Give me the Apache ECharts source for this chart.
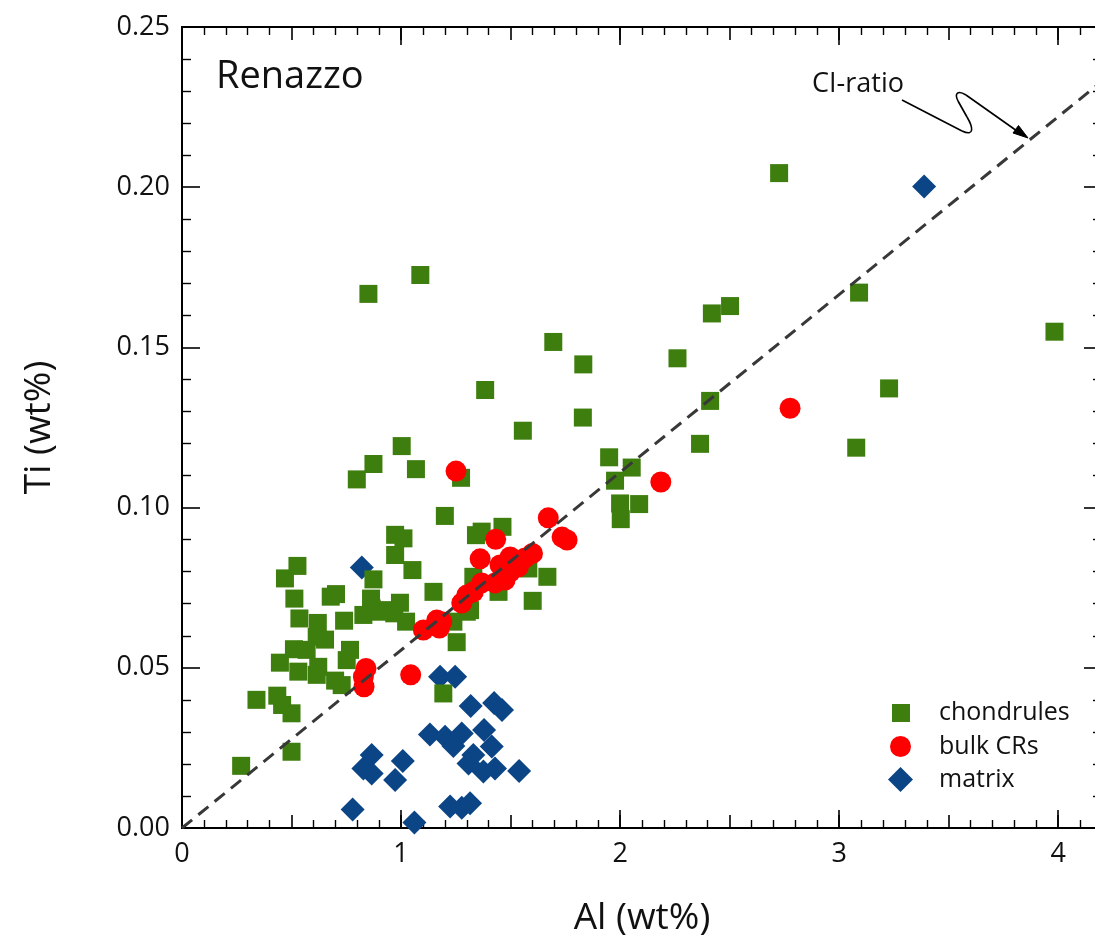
<!DOCTYPE html>
<html><head><meta charset="utf-8">
<script src="https://cdn.jsdelivr.net/npm/echarts@6/dist/echarts.min.js"></script>
<style>html,body{margin:0;padding:0;background:#fff;overflow:hidden}#c{width:1110px;height:937px}</style>
</head><body><div id="c"></div>
<script>
// Al (wt%), Ti (wt%)
const chondrules = [[0.27,0.0194],[0.50,0.0238],[0.34,0.0400],[0.435,0.0413],[0.457,0.0384],[0.50,0.0358],[0.447,0.0516],[0.531,0.0488],[0.511,0.0558],[0.569,0.0556],[0.622,0.0503],[0.615,0.0478],[0.699,0.0460],[0.729,0.0446],[0.752,0.0524],[0.767,0.0556],[0.615,0.0597],[0.653,0.0588],[0.536,0.0654],[0.620,0.0640],[0.740,0.0647],[0.513,0.0716],[0.679,0.0722],[0.703,0.0730],[0.470,0.0779],[0.527,0.0818],[0.863,0.0716],[0.866,0.0685],[0.896,0.0675],[0.828,0.0665],[0.874,0.0776],[0.995,0.0703],[0.969,0.0670],[1.023,0.0644],[0.942,0.0680],[0.973,0.0915],[1.011,0.0904],[0.973,0.0852],[1.052,0.0805],[1.148,0.0737],[0.798,0.1088],[0.874,0.1136],[1.003,0.1192],[1.068,0.1120],[0.851,0.1667],[1.088,0.1726],[1.274,0.1093],[1.200,0.0974],[1.342,0.0914],[1.368,0.0925],[1.463,0.0940],[1.330,0.0784],[1.445,0.0737],[1.581,0.0810],[1.668,0.0784],[1.601,0.0709],[1.300,0.0675],[1.239,0.0644],[1.315,0.0680],[1.254,0.0580],[1.193,0.0420],[1.384,0.1367],[1.556,0.1240],[1.695,0.1517],[1.832,0.1447],[1.830,0.1281],[1.950,0.1157],[2.053,0.1125],[1.977,0.1084],[2.000,0.1013],[2.087,0.1011],[2.003,0.0964],[2.262,0.1466],[2.411,0.1333],[2.365,0.1199],[2.419,0.1606],[2.502,0.1629],[2.726,0.2044],[3.091,0.1671],[3.228,0.1372],[3.078,0.1187],[3.983,0.1549]];
const bulkCRs = [[1.251,0.1114],[1.672,0.0968],[1.432,0.0901],[1.361,0.0840],[1.735,0.0908],[1.758,0.0899],[1.600,0.0857],[1.566,0.0843],[1.498,0.0846],[1.452,0.0821],[1.536,0.0815],[1.498,0.0799],[1.475,0.0774],[1.429,0.0765],[1.368,0.0765],[1.330,0.0737],[1.300,0.0727],[1.277,0.0702],[1.186,0.0644],[1.163,0.0649],[1.175,0.0624],[1.102,0.0618],[1.044,0.0478],[0.840,0.0498],[0.828,0.0472],[0.831,0.0441],[2.186,0.1080],[2.776,0.1310]];
const matrix = [[1.178,0.0472],[1.247,0.0472],[1.318,0.0381],[1.425,0.0390],[1.461,0.0368],[1.132,0.0292],[1.201,0.0285],[1.239,0.0256],[1.277,0.0295],[1.379,0.0306],[1.414,0.0254],[1.330,0.0228],[1.308,0.0201],[1.376,0.0176],[1.429,0.0186],[1.539,0.0178],[0.866,0.0228],[0.828,0.0186],[0.866,0.0170],[1.008,0.0209],[0.973,0.0150],[0.779,0.0058],[1.061,0.0017],[1.224,0.0067],[1.277,0.0063],[1.315,0.0077],[0.821,0.0813],[3.388,0.2002]];
const ciLine = [[0,0],[4.2,0.2331]];
const xTickLabels = ['0','1','2','3','4'];
const yTickLabels = ['0.00','0.05','0.10','0.15','0.20','0.25'];
const seriesNames = ['chondrules','bulk CRs','matrix'];

const FONT = '"Open Sans","Noto Sans",sans-serif';
const BLACK = '#000';
const XMAX = 4.2, YMAX = 0.25;
const gridRect = {left:182, top:27, width:920, height:801, containLabel:false, outerBoundsMode:'none'};

function xAx(grid, pos, interval, tickLen, minor, labels){
  const a = {type:'value', gridIndex:grid, position:pos, min:0, max:XMAX, interval:interval,
    axisLine:{show:true, onZero:false, lineStyle:{color:BLACK, width:2}},
    axisTick:{show:true, inside:true, length:tickLen, lineStyle:{color:BLACK, width:1.6}},
    splitLine:{show:false},
    axisLabel:{show:false}};
  if (minor) a.minorTick = {show:true, splitNumber:5, length:8, lineStyle:{color:BLACK, width:1.4}};
  if (labels) {
    a.axisLabel = {show:true, showMaxLabel:false, margin:13, fontSize:27, fontFamily:FONT, color:'#111',
      formatter: v => { const i = Math.round(v); return Math.abs(v - i) < 1e-6 && xTickLabels[i] !== undefined ? xTickLabels[i] : ''; }};
    a.name = 'Al (wt%)'; a.nameLocation = 'middle'; a.nameGap = 72;
    a.nameTextStyle = {fontSize:37, fontFamily:FONT, color:'#111'};
  }
  return a;
}
function yAx(grid, pos, labels, show){
  const a = {type:'value', gridIndex:grid, position:pos, min:0, max:YMAX, interval:0.05, show:show,
    axisLine:{show:true, onZero:false, lineStyle:{color:BLACK, width:2}},
    axisTick:{show:true, inside:true, length:18, lineStyle:{color:BLACK, width:1.6}},
    minorTick:{show:true, splitNumber:5, length:9, lineStyle:{color:BLACK, width:1.4}},
    splitLine:{show:false}, axisLabel:{show:false}};
  if (labels) {
    a.axisLabel = {show:true, margin:12, fontSize:27, fontFamily:FONT, color:'#111', padding:[0,0,6,0],
      formatter: v => { const i = Math.round(v/0.05); return yTickLabels[i] !== undefined ? yTickLabels[i] : ''; }};
    a.name = 'Ti (wt%)'; a.nameLocation = 'middle'; a.nameGap = 124;
    a.nameTextStyle = {fontSize:37, fontFamily:FONT, color:'#111'};
  }
  return a;
}

const arrowStyle = {stroke:'#000', lineWidth:1.6, fill:null};
const option = {
  animation:false,
  backgroundColor:'#fff',
  grid:[Object.assign({}, gridRect), Object.assign({}, gridRect)],
  xAxis:[xAx(0,'bottom',1,18,false,true), xAx(0,'top',1,18,false,false),
         xAx(1,'bottom',0.5,13,true,false), xAx(1,'top',0.5,13,true,false)],
  yAxis:[yAx(0,'left',true,true), yAx(0,'right',false,true), yAx(1,'left',false,false)],
  legend:[
    {data:[seriesNames[0]], left:892, top:700.5, padding:0, itemWidth:18, itemHeight:18, selectedMode:false,
     textStyle:{fontSize:25, fontFamily:FONT, color:'#111', padding:[0,0,0,24]}},
    {data:[seriesNames[1]], left:890, top:734, padding:0, itemWidth:21, itemHeight:21, selectedMode:false,
     textStyle:{fontSize:25, fontFamily:FONT, color:'#111', padding:[0,0,0,23]}},
    {data:[seriesNames[2]], left:888, top:767, padding:0, itemWidth:25, itemHeight:25, selectedMode:false,
     textStyle:{fontSize:25, fontFamily:FONT, color:'#111', padding:[0,0,0,21]}}
  ],
  series:[
    {name:seriesNames[2], type:'scatter', xAxisIndex:0, yAxisIndex:0, data:matrix, symbol:'diamond', symbolSize:24,
     itemStyle:{color:'#0b4586', opacity:1}},
    {name:seriesNames[0], type:'scatter', xAxisIndex:0, yAxisIndex:0, data:chondrules, symbol:'rect', symbolSize:18,
     itemStyle:{color:'#3e7e0e', opacity:1}},
    {name:'CI-ratio', type:'line', xAxisIndex:0, yAxisIndex:0, data:ciLine, symbol:'none', silent:true,
     lineStyle:{color:'#383838', width:3, type:[13,8]}},
    {name:seriesNames[1], type:'scatter', xAxisIndex:0, yAxisIndex:0, data:bulkCRs, symbol:'circle', symbolSize:21,
     itemStyle:{color:'#ff0000', opacity:1}}
  ],
  graphic:[
    {type:'text', x:216, y:77, style:{text:'Renazzo', fontSize:38, fontFamily:FONT, fill:'#111', verticalAlign:'middle'}},
    {type:'text', x:812, y:84, style:{text:'CI-ratio', fontSize:27, fontFamily:FONT, fill:'#111', verticalAlign:'middle'}},
    {type:'line', shape:{x1:902, y1:100, x2:962, y2:131}, style:arrowStyle},
    {type:'bezierCurve', shape:{x1:962, y1:131, cpx1:975, cpy1:137, cpx2:973, cpy2:127, x2:967, y2:117}, style:arrowStyle},
    {type:'line', shape:{x1:967, y1:117, x2:958, y2:101}, style:arrowStyle},
    {type:'bezierCurve', shape:{x1:958, y1:101, cpx1:954, cpy1:93, cpx2:958, cpy2:90, x2:966, y2:95}, style:arrowStyle},
    {type:'line', shape:{x1:966, y1:95, x2:1017, y2:131}, style:arrowStyle},
    {type:'polygon', shape:{points:[[1028,138],[1013,133],[1018.5,125.5]]}, style:{fill:'#000', stroke:'#000', lineWidth:1}}
  ]
};
const chart = echarts.init(document.getElementById('c'), null, {renderer:'canvas'});
chart.setOption(option);
</script></body></html>
